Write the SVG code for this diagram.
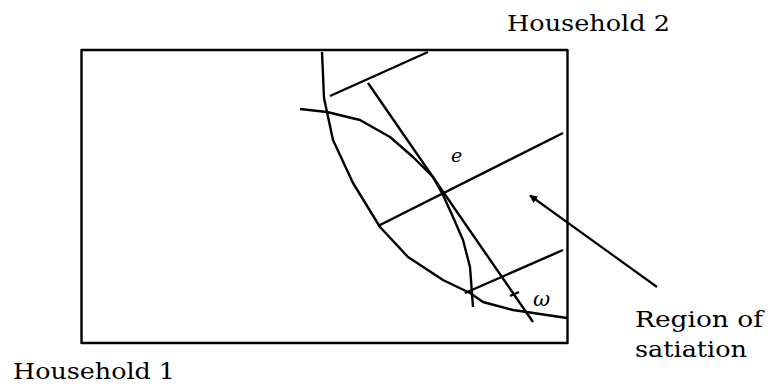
<svg xmlns="http://www.w3.org/2000/svg" width="771" height="390" viewBox="0 0 771 390">
<style>
.ln{fill:none;stroke:#000;stroke-width:2.4;stroke-linejoin:round;stroke-linecap:butt}
.lbl{font-family:"DejaVu Serif","Liberation Serif",serif;font-size:22px;fill:#000}
.sym{font-family:"DejaVu Serif","Liberation Serif",serif;font-style:italic;fill:#000}
</style>
<defs>
<marker id="ah" viewBox="0 0 10 10" refX="9" refY="5" markerWidth="8" markerHeight="8" markerUnits="userSpaceOnUse" orient="auto">
<path d="M0,0 L10,5 L0,10 Z" fill="#000"/>
</marker>
</defs>
<rect width="771" height="390" fill="#fff"/>
<g id="box"><rect class="ln" x="81.5" y="50" width="486" height="293"/></g>
<g id="connectors">
<polyline id="curveA" class="ln" points="322,52 324,98 333,140 353,183 380,227 408,257 443,280 470,293 483,302 513,310 567,318"/>
<polyline id="curveB" class="ln" points="300,109 327,112 360,120 390,137 413,157 433,177 443,195 453,217 463,240 470,267 473,307"/>
<line id="lineC" class="ln" x1="368" y1="83" x2="533" y2="322"/>
<line id="budgetTop" class="ln" x1="330" y1="96" x2="428" y2="52"/>
<line id="budgetMid" class="ln" x1="378" y1="226" x2="563" y2="133"/>
<line id="budgetBot" class="ln" x1="465" y1="293" x2="563" y2="250"/>
<line id="tick" class="ln" x1="510" y1="296" x2="519" y2="292"/>
<line id="arrow" class="ln" x1="657" y1="287" x2="530" y2="195.5" marker-end="url(#ah)" style="stroke-width:2.2"/>
</g>
<g id="labels">
<text class="lbl" x="507" y="31" textLength="163" lengthAdjust="spacingAndGlyphs">Household 2</text>
<text class="lbl" x="13" y="379" textLength="162" lengthAdjust="spacingAndGlyphs">Household 1</text>
<text class="lbl" x="635" y="327" textLength="128" lengthAdjust="spacingAndGlyphs">Region of</text>
<text class="lbl" x="635" y="357" textLength="112" lengthAdjust="spacingAndGlyphs">satiation</text>
<text class="sym" x="451" y="162" font-size="19">e</text>
<text class="sym" x="533" y="306" font-size="21">ω</text>
</g>
</svg>
